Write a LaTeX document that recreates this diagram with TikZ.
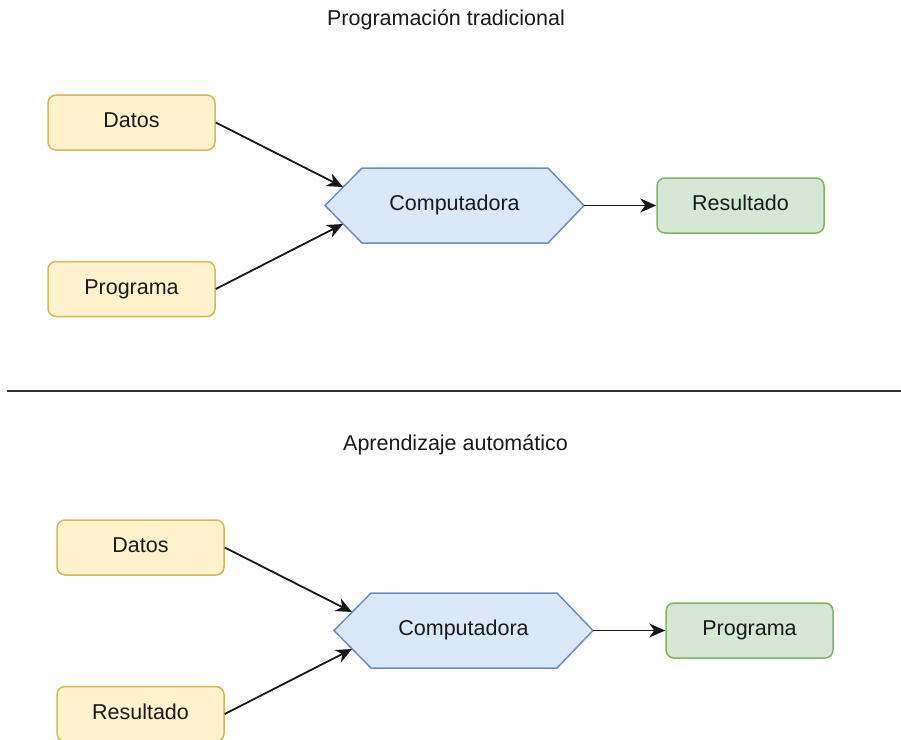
\documentclass[tikz,border=0pt]{standalone}
\usepackage{fontspec}
\setmainfont{Liberation Sans}
\usetikzlibrary{arrows.meta}
\definecolor{yfill}{HTML}{FFF2CC}
\definecolor{ydraw}{HTML}{D6B656}
\definecolor{gfill}{HTML}{D5E8D4}
\definecolor{gdraw}{HTML}{82B366}
\definecolor{bfill}{HTML}{DAE8FC}
\definecolor{bdraw}{HTML}{6C8EBF}
\definecolor{txt}{HTML}{1A1A1A}
\tikzset{
  base/.style={font=\fontsize{21.5}{26}\selectfont, text=txt, text height=16pt, text depth=6pt},
  ybox/.style={base, draw=ydraw, fill=yfill, line width=1.5pt, rounded corners=8pt, minimum width=167pt, minimum height=55pt, inner sep=0pt},
  gbox/.style={base, draw=gdraw, fill=gfill, line width=1.5pt, rounded corners=8pt, minimum width=167pt, minimum height=55pt, inner sep=0pt},
  hexshape/.style={draw=bdraw, fill=bfill, line width=1.5pt, line join=miter},
  hextext/.style={base, minimum width=259pt, minimum height=75pt, inner sep=0pt},
  arr/.style={-{Stealth[length=16pt,width=14pt,inset=5pt]}, line width=1.8pt, black!90},
  title/.style={base, inner sep=0pt}
}
\begin{document}
\begin{tikzpicture}[x=1pt,y=-1pt]
\useasboundingbox (0,0) rectangle (901,739);
\fill[white] (0,0) rectangle (901,739);

% ----- top section -----
\node[title] (t1) at (446,20.5) {Programación tradicional};
\node[ybox] (d1) at (131.5,122.5) {Datos};
\node[ybox] (p1) at (131.5,289) {Programa};
\draw[hexshape] (325,205.5) -- (362,168) -- (548,168) -- (584,205.5) -- (548,243) -- (362,243) -- cycle;
\node[hextext] (c1) at (454.5,205.5) {Computadora};
\coordinate (c1a) at (343,187);
\coordinate (c1b) at (343,224);
\node[gbox] (r1) at (740.5,205.5) {Resultado};
\draw[arr] (d1.east) -- (c1a);
\draw[arr] (p1.east) -- (c1b);
\draw[arr] (c1.east) -- (r1.west);

% ----- separator -----
\coordinate (sepL) at (7,391);
\coordinate (sepR) at (901,391);
\draw[line width=2pt, black!80] (sepL) -- (sepR);

% ----- bottom section -----
\node[title] (t2) at (455.5,445.5) {Aprendizaje automático};
\node[ybox] (d2) at (140.5,547.5) {Datos};
\node[ybox] (r2) at (140.5,714) {Resultado};
\draw[hexshape] (334,630.5) -- (371,593) -- (557,593) -- (593,630.5) -- (557,668) -- (371,668) -- cycle;
\node[hextext] (c2) at (463.5,630.5) {Computadora};
\coordinate (c2a) at (352,612);
\coordinate (c2b) at (352,649);
\node[gbox] (p2) at (749.5,630.5) {Programa};
\draw[arr] (d2.east) -- (c2a);
\draw[arr] (r2.east) -- (c2b);
\draw[arr] (c2.east) -- (p2.west);
\end{tikzpicture}
\end{document}
